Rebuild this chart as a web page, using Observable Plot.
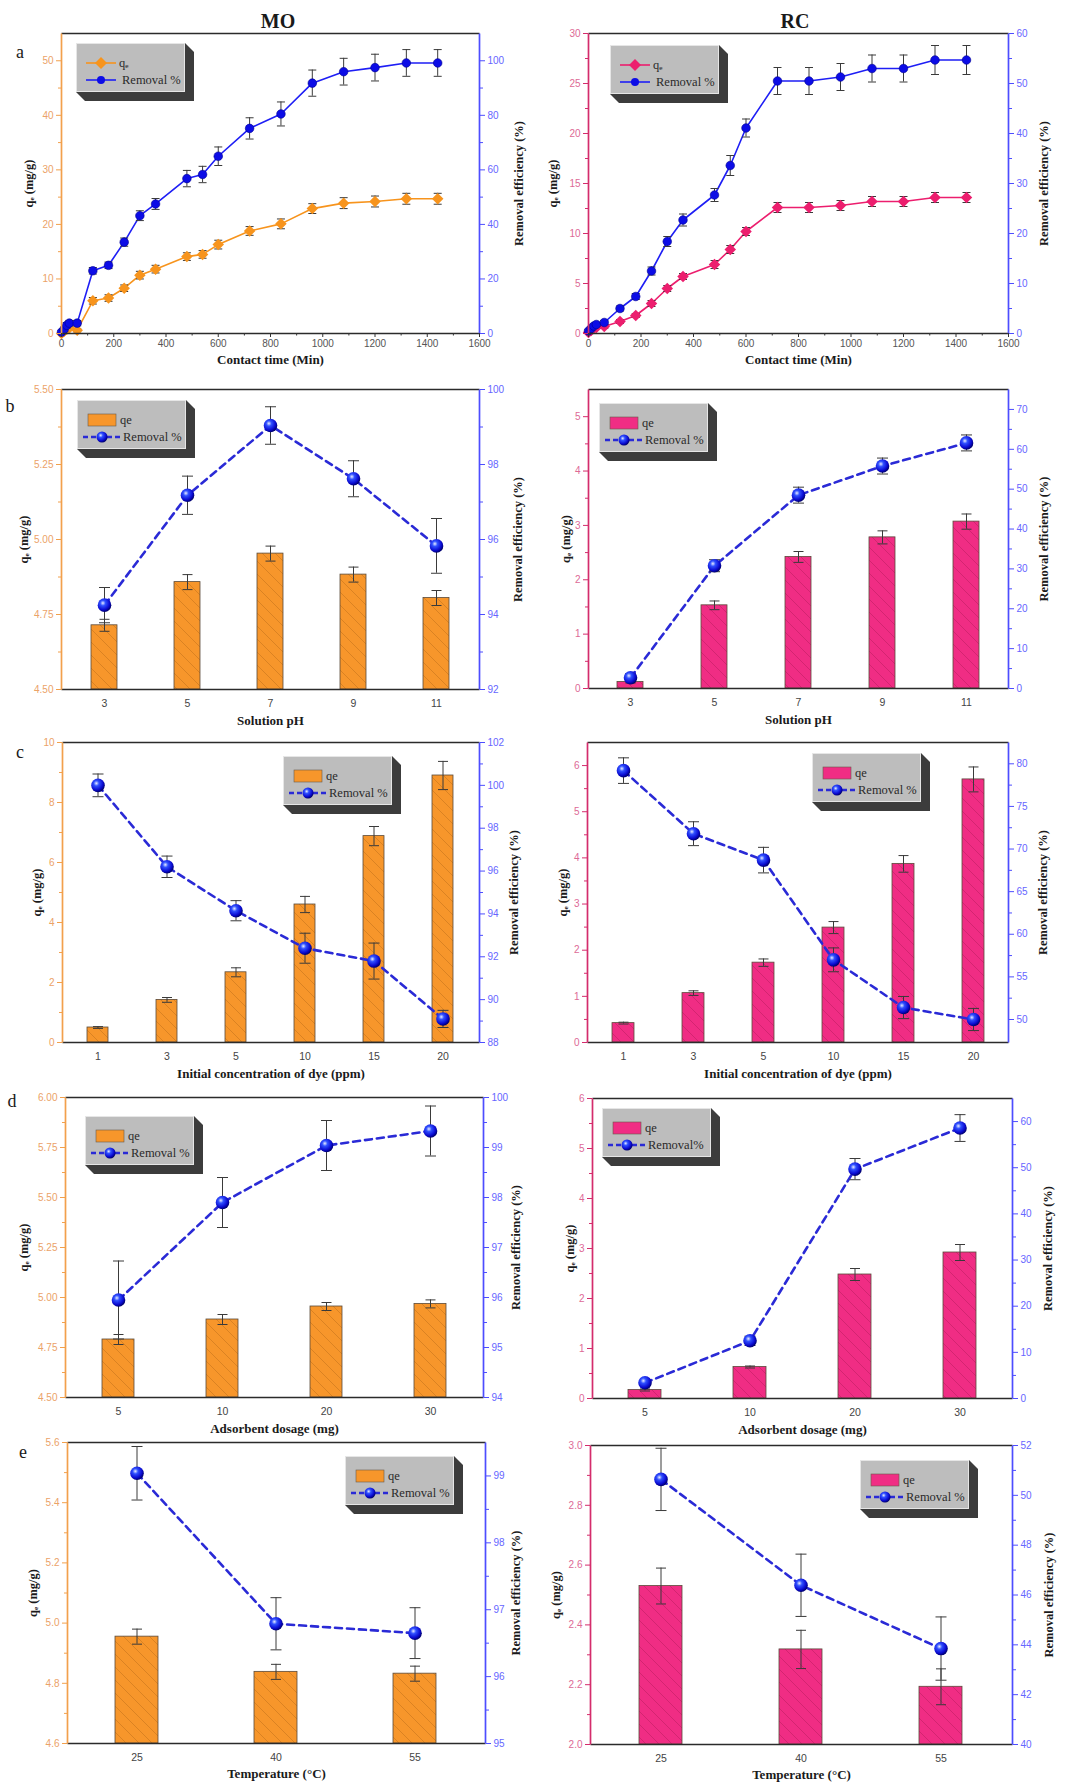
<!DOCTYPE html>
<html>
<head>
<meta charset="utf-8">
<script src="https://cdn.jsdelivr.net/npm/d3@7"></script>
<script src="https://cdn.jsdelivr.net/npm/@observablehq/plot@0.6"></script>
<style>
html,body{margin:0;padding:0;background:#fff;}
#root{position:relative;width:1070px;height:1785px;overflow:hidden;background:#fff;}
.tag{position:absolute;font-family:"Liberation Serif","Times New Roman",serif;color:#1a1a1a;line-height:1;transform:translate(-50%,-50%);white-space:nowrap;}
</style>
</head>
<body>
<div id="root"></div>
<script>
// ---------- categories ----------
const timeMin = [0, 10, 20, 30, 60, 120, 180, 240, 300, 360, 480, 540, 600, 720, 840, 960, 1080, 1200, 1320, 1440];
const phLevels = ["3", "5", "7", "9", "11"];
const concLevels = ["1", "3", "5", "10", "15", "20"];
const dosageLevels = ["5", "10", "20", "30"];
const tempLevels = ["25", "40", "55"];

// ---------- (a) contact time ----------
const moTimeQe = [0, 0.4, 0.8, 1.0, 0.6, 6.0, 6.5, 8.3, 10.7, 11.8, 14.1, 14.5, 16.3, 18.8, 20.1, 22.9, 23.9, 24.2, 24.7, 24.7];
const moTimeQeErr = [0.1, 0.2, 0.3, 0.3, 0.3, 0.6, 0.6, 0.6, 0.7, 0.7, 0.7, 0.7, 0.8, 0.8, 0.9, 0.9, 1.0, 1.0, 1.0, 1.0];
const moTimeRemoval = [0.5, 1.5, 3.0, 3.8, 3.8, 23.0, 25.0, 33.5, 43.2, 47.5, 56.8, 58.3, 65.0, 75.2, 80.5, 91.8, 96.0, 97.5, 99.2, 99.2];
const moTimeRemovalErr = [0.5, 0.8, 1.0, 1.0, 1.0, 1.2, 1.2, 1.5, 1.8, 2.0, 3.0, 3.0, 3.4, 3.9, 4.4, 4.8, 4.9, 4.9, 4.9, 4.9];
const rcTimeQe = [0.1, 0.3, 0.5, 0.6, 0.7, 1.2, 1.8, 3.0, 4.5, 5.7, 6.9, 8.4, 10.2, 12.6, 12.6, 12.8, 13.2, 13.2, 13.6, 13.6];
const rcTimeQeErr = [0.1, 0.1, 0.1, 0.1, 0.2, 0.2, 0.2, 0.3, 0.3, 0.3, 0.4, 0.4, 0.4, 0.5, 0.5, 0.5, 0.5, 0.5, 0.5, 0.5];
const rcTimeRemoval = [0.5, 1.0, 1.5, 1.8, 2.2, 5.0, 7.4, 12.5, 18.4, 22.7, 27.7, 33.6, 41.1, 50.5, 50.5, 51.3, 53.0, 53.0, 54.7, 54.7];
const rcTimeRemovalErr = [0.3, 0.3, 0.4, 0.4, 0.4, 0.5, 0.6, 0.8, 1.0, 1.2, 1.3, 2.0, 1.8, 2.7, 2.7, 2.7, 2.7, 2.7, 2.9, 2.9];

// ---------- (b) pH ----------
const moPhQe = [4.714, 4.858, 4.953, 4.883, 4.805];
const moPhQeErr = [0.02, 0.025, 0.025, 0.025, 0.025];
const moPhRemoval = [94.25, 97.18, 99.04, 97.62, 95.83];
const moPhRemovalErr = [0.47, 0.51, 0.5, 0.48, 0.73];
const rcPhQe = [0.12, 1.53, 2.42, 2.78, 3.07];
const rcPhQeErr = [0.02, 0.08, 0.1, 0.12, 0.14];
const rcPhRemoval = [2.7, 30.8, 48.5, 55.8, 61.6];
const rcPhRemovalErr = [1.0, 1.5, 2.0, 2.0, 2.0];

// ---------- (c) initial concentration ----------
const moConcQe = [0.5, 1.42, 2.34, 4.6, 6.88, 8.9];
const moConcQeErr = [0.03, 0.08, 0.15, 0.27, 0.32, 0.47];
const moConcRemoval = [100.0, 96.2, 94.15, 92.4, 91.8, 89.1];
const moConcRemovalErr = [0.53, 0.5, 0.47, 0.7, 0.84, 0.4];
const rcConcQe = [0.42, 1.07, 1.73, 2.49, 3.87, 5.7];
const rcConcQeErr = [0.02, 0.05, 0.08, 0.13, 0.18, 0.27];
const rcConcRemoval = [79.2, 71.8, 68.7, 57.0, 51.4, 50.0];
const rcConcRemovalErr = [1.5, 1.4, 1.5, 1.4, 1.3, 1.3];

// ---------- (d) adsorbent dosage ----------
const moDoseQe = [4.79, 4.89, 4.955, 4.968];
const moDoseQeErr = [0.025, 0.025, 0.02, 0.02];
const moDoseRemoval = [95.95, 97.9, 99.04, 99.33];
const moDoseRemovalErr = [0.78, 0.5, 0.5, 0.5];
const rcDoseQe = [0.17, 0.63, 2.48, 2.92];
const rcDoseQeErr = [0.02, 0.02, 0.12, 0.16];
const rcDoseRemoval = [3.4, 12.5, 49.7, 58.6];
const rcDoseRemovalErr = [0.5, 1.0, 2.3, 2.9];

// ---------- (e) temperature ----------
const moTempQe = [4.955, 4.838, 4.832];
const moTempQeErr = [0.025, 0.025, 0.025];
const moTempRemoval = [99.04, 96.79, 96.65];
const moTempRemovalErr = [0.4, 0.39, 0.38];
const rcTempQe = [2.53, 2.318, 2.193];
const rcTempQeErr = [0.06, 0.064, 0.06];
const rcTempRemoval = [50.64, 46.39, 43.85];
const rcTempRemovalErr = [1.25, 1.25, 1.27];

// ---------- axis domains & tick labels ----------
const timeDomain = [0, 1600];
const timeTicks = [0, 200, 400, 600, 800, 1000, 1200, 1400, 1600];
const timeMinor = [100, 300, 500, 700, 900, 1100, 1300, 1500];

const moTimeQeDomain = [0, 55], moTimeQeTicks = [0, 10, 20, 30, 40, 50], moTimeQeMinor = [5, 15, 25, 35, 45];
const moTimeRemDomain = [0, 110], moTimeRemTicks = [0, 20, 40, 60, 80, 100], moTimeRemMinor = [10, 30, 50, 70, 90];
const rcTimeQeDomain = [0, 30], rcTimeQeTicks = [0, 5, 10, 15, 20, 25, 30], rcTimeQeMinor = [2.5, 7.5, 12.5, 17.5, 22.5, 27.5];
const rcTimeRemDomain = [0, 60], rcTimeRemTicks = [0, 10, 20, 30, 40, 50, 60], rcTimeRemMinor = [5, 15, 25, 35, 45, 55];

const moPhQeDomain = [4.5, 5.5], moPhQeTicks = [4.5, 4.75, 5.0, 5.25, 5.5], moPhQeMinor = [4.625, 4.875, 5.125, 5.375];
const moPhRemDomain = [92, 100], moPhRemTicks = [92, 94, 96, 98, 100], moPhRemMinor = [93, 95, 97, 99];
const rcPhQeDomain = [0, 5.5], rcPhQeTicks = [0, 1, 2, 3, 4, 5], rcPhQeMinor = [0.5, 1.5, 2.5, 3.5, 4.5];
const rcPhRemDomain = [0, 75], rcPhRemTicks = [0, 10, 20, 30, 40, 50, 60, 70], rcPhRemMinor = [5, 15, 25, 35, 45, 55, 65];

const moConcQeDomain = [0, 10], moConcQeTicks = [0, 2, 4, 6, 8, 10], moConcQeMinor = [1, 3, 5, 7, 9];
const moConcRemDomain = [88, 102], moConcRemTicks = [88, 90, 92, 94, 96, 98, 100, 102], moConcRemMinor = [89, 91, 93, 95, 97, 99, 101];
const rcConcQeDomain = [0, 6.5], rcConcQeTicks = [0, 1, 2, 3, 4, 5, 6], rcConcQeMinor = [0.5, 1.5, 2.5, 3.5, 4.5, 5.5];
const rcConcRemDomain = [47.3, 82.5], rcConcRemTicks = [50, 55, 60, 65, 70, 75, 80], rcConcRemMinor = [52.5, 57.5, 62.5, 67.5, 72.5, 77.5];

const moDoseQeDomain = [4.5, 6.0], moDoseQeTicks = [4.5, 4.75, 5.0, 5.25, 5.5, 5.75, 6.0], moDoseQeMinor = [4.625, 4.875, 5.125, 5.375, 5.625, 5.875];
const moDoseRemDomain = [94, 100], moDoseRemTicks = [94, 95, 96, 97, 98, 99, 100], moDoseRemMinor = [94.5, 95.5, 96.5, 97.5, 98.5, 99.5];
const rcDoseQeDomain = [0, 6], rcDoseQeTicks = [0, 1, 2, 3, 4, 5, 6], rcDoseQeMinor = [0.5, 1.5, 2.5, 3.5, 4.5, 5.5];
const rcDoseRemDomain = [0, 65], rcDoseRemTicks = [0, 10, 20, 30, 40, 50, 60], rcDoseRemMinor = [5, 15, 25, 35, 45, 55];

const moTempQeDomain = [4.6, 5.6], moTempQeTicks = [4.6, 4.8, 5.0, 5.2, 5.4, 5.6], moTempQeMinor = [4.7, 4.9, 5.1, 5.3, 5.5];
const moTempRemDomain = [95, 99.5], moTempRemTicks = [95, 96, 97, 98, 99], moTempRemMinor = [95.5, 96.5, 97.5, 98.5];
const rcTempQeDomain = [2.0, 3.0], rcTempQeTicks = [2.0, 2.2, 2.4, 2.6, 2.8, 3.0], rcTempQeMinor = [2.1, 2.3, 2.5, 2.7, 2.9];
const rcTempRemDomain = [40, 52], rcTempRemTicks = [40, 42, 44, 46, 48, 50, 52], rcTempRemMinor = [41, 43, 45, 47, 49, 51];

// ---------- styles ----------
const SERIF = "'Liberation Serif', 'Times New Roman', serif";
const SANS = "'Liberation Sans', Arial, sans-serif";
const MO = {bar: "#F7962B", line: "#F7941D", axis: "#F2A04C", text: "#EBA268", hatch: "#6a3500"};
const RC = {bar: "#F02D84", line: "#EC1E6E", axis: "#D42C6C", text: "#DD6A96", hatch: "#6a0028"};
const BLUE_AXIS = "#4d4dff", BLUE_TEXT = "#6666ff", BLUE_LINE = "#2a2ad6", ERR = "#3a3a3a";

const panels = [
  {col: 0, frame: [61, 479, 33, 333], kind: "time", dye: MO, x: timeMin, qe: moTimeQe, qeErr: moTimeQeErr, rem: moTimeRemoval, remErr: moTimeRemovalErr,
   yDomain: moTimeQeDomain, yTicks: moTimeQeTicks, yMinor: moTimeQeMinor, yFmt: "d", rDomain: moTimeRemDomain, rTicks: moTimeRemTicks, rMinor: moTimeRemMinor, rFmt: "d",
   xLabel: "Contact time (Min)", ylOff: -33, yrOff: 39, xlOff: 26, legend: [76, 43], legendQe: "qₑ", legendRem: "Removal %"},
  {col: 1, frame: [588, 1008, 33, 333], kind: "time", dye: RC, x: timeMin, qe: rcTimeQe, qeErr: rcTimeQeErr, rem: rcTimeRemoval, remErr: rcTimeRemovalErr,
   yDomain: rcTimeQeDomain, yTicks: rcTimeQeTicks, yMinor: rcTimeQeMinor, yFmt: "d", rDomain: rcTimeRemDomain, rTicks: rcTimeRemTicks, rMinor: rcTimeRemMinor, rFmt: "d",
   xLabel: "Contact time (Min)", ylOff: -36, yrOff: 35, xlOff: 26, legend: [610, 45], legendQe: "qₑ", legendRem: "Removal %"},
  {col: 0, frame: [61, 479, 389, 689], kind: "bar", dye: MO, x: phLevels, qe: moPhQe, qeErr: moPhQeErr, rem: moPhRemoval, remErr: moPhRemovalErr,
   yDomain: moPhQeDomain, yTicks: moPhQeTicks, yMinor: moPhQeMinor, yFmt: ".2f", rDomain: moPhRemDomain, rTicks: moPhRemTicks, rMinor: moPhRemMinor, rFmt: "d",
   xLabel: "Solution pH", ylOff: -38, yrOff: 38, xlOff: 31, legend: [77, 400], legendQe: "qe", legendRem: "Removal %"},
  {col: 1, frame: [588, 1008, 389, 688], kind: "bar", dye: RC, x: phLevels, qe: rcPhQe, qeErr: rcPhQeErr, rem: rcPhRemoval, remErr: rcPhRemovalErr,
   yDomain: rcPhQeDomain, yTicks: rcPhQeTicks, yMinor: rcPhQeMinor, yFmt: "d", rDomain: rcPhRemDomain, rTicks: rcPhRemTicks, rMinor: rcPhRemMinor, rFmt: "d",
   xLabel: "Solution pH", ylOff: -23, yrOff: 35, xlOff: 31, legend: [599, 403], legendQe: "qe", legendRem: "Removal %"},
  {col: 0, frame: [62, 479, 742, 1042], kind: "bar", dye: MO, x: concLevels, qe: moConcQe, qeErr: moConcQeErr, rem: moConcRemoval, remErr: moConcRemovalErr,
   yDomain: moConcQeDomain, yTicks: moConcQeTicks, yMinor: moConcQeMinor, yFmt: "d", rDomain: moConcRemDomain, rTicks: moConcRemTicks, rMinor: moConcRemMinor, rFmt: "d",
   xLabel: "Initial concentration of dye (ppm)", ylOff: -26, yrOff: 34, xlOff: 31, legend: [283, 756], legendQe: "qe", legendRem: "Removal %"},
  {col: 1, frame: [587, 1008, 742, 1042], kind: "bar", dye: RC, x: concLevels, qe: rcConcQe, qeErr: rcConcQeErr, rem: rcConcRemoval, remErr: rcConcRemovalErr,
   yDomain: rcConcQeDomain, yTicks: rcConcQeTicks, yMinor: rcConcQeMinor, yFmt: "d", rDomain: rcConcRemDomain, rTicks: rcConcRemTicks, rMinor: rcConcRemMinor, rFmt: "d",
   xLabel: "Initial concentration of dye (ppm)", ylOff: -25, yrOff: 34, xlOff: 31, legend: [812, 753], legendQe: "qe", legendRem: "Removal %"},
  {col: 0, frame: [65, 483, 1097, 1397], kind: "bar", dye: MO, x: dosageLevels, qe: moDoseQe, qeErr: moDoseQeErr, rem: moDoseRemoval, remErr: moDoseRemovalErr,
   yDomain: moDoseQeDomain, yTicks: moDoseQeTicks, yMinor: moDoseQeMinor, yFmt: ".2f", rDomain: moDoseRemDomain, rTicks: moDoseRemTicks, rMinor: moDoseRemMinor, rFmt: "d",
   xLabel: "Adsorbent dosage (mg)", ylOff: -42, yrOff: 32, xlOff: 31, legend: [85, 1116], legendQe: "qe", legendRem: "Removal %"},
  {col: 1, frame: [592, 1012, 1098, 1398], kind: "bar", dye: RC, x: dosageLevels, qe: rcDoseQe, qeErr: rcDoseQeErr, rem: rcDoseRemoval, remErr: rcDoseRemovalErr,
   yDomain: rcDoseQeDomain, yTicks: rcDoseQeTicks, yMinor: rcDoseQeMinor, yFmt: "d", rDomain: rcDoseRemDomain, rTicks: rcDoseRemTicks, rMinor: rcDoseRemMinor, rFmt: "d",
   xLabel: "Adsorbent dosage (mg)", ylOff: -23, yrOff: 35, xlOff: 31, legend: [602, 1108], legendQe: "qe", legendRem: "Removal%"},
  {col: 0, frame: [67, 485, 1442, 1743], kind: "bar", dye: MO, x: tempLevels, qe: moTempQe, qeErr: moTempQeErr, rem: moTempRemoval, remErr: moTempRemovalErr,
   yDomain: moTempQeDomain, yTicks: moTempQeTicks, yMinor: moTempQeMinor, yFmt: ".1f", rDomain: moTempRemDomain, rTicks: moTempRemTicks, rMinor: moTempRemMinor, rFmt: "d",
   xLabel: "Temperature (°C)", ylOff: -35, yrOff: 30, xlOff: 30, legend: [345, 1456], legendQe: "qe", legendRem: "Removal %"},
  {col: 1, frame: [590, 1012, 1445, 1744], kind: "bar", dye: RC, x: tempLevels, qe: rcTempQe, qeErr: rcTempQeErr, rem: rcTempRemoval, remErr: rcTempRemovalErr,
   yDomain: rcTempQeDomain, yTicks: rcTempQeTicks, yMinor: rcTempQeMinor, yFmt: ".1f", rDomain: rcTempRemDomain, rTicks: rcTempRemTicks, rMinor: rcTempRemMinor, rFmt: "d",
   xLabel: "Temperature (°C)", ylOff: -35, yrOff: 36, xlOff: 30, legend: [860, 1460], legendQe: "qe", legendRem: "Removal %"}
];

const root = document.getElementById("root");

// error-bar cap and square diamond symbols
const capSymbol = {draw(ctx, size) { const w = Math.sqrt(size / Math.PI); ctx.moveTo(-w, 0); ctx.lineTo(w, 0); }};
const diamondSymbol = {draw(ctx, size) { const w = Math.sqrt(size / Math.PI) * 1.15; ctx.moveTo(0, -w); ctx.lineTo(w, 0); ctx.lineTo(0, w); ctx.lineTo(-w, 0); ctx.closePath(); }};

function errorBars(rows, lo, hi, half) {
  return [
    Plot.ruleX(rows, {x: "x", y1: lo, y2: hi, stroke: ERR, strokeWidth: 1}),
    Plot.dot(rows, {x: "x", y: lo, r: half, symbol: capSymbol, stroke: ERR, fill: "none", strokeWidth: 1}),
    Plot.dot(rows, {x: "x", y: hi, r: half, symbol: capSymbol, stroke: ERR, fill: "none", strokeWidth: 1})
  ];
}

function addSphere(defs, id) {
  const g = defs.append("radialGradient").attr("id", id).attr("cx", "38%").attr("cy", "35%").attr("r", "65%");
  g.append("stop").attr("offset", "0%").attr("stop-color", "#e6ecff");
  g.append("stop").attr("offset", "30%").attr("stop-color", "#3050ff");
  g.append("stop").attr("offset", "75%").attr("stop-color", "#0a0ad0");
  g.append("stop").attr("offset", "100%").attr("stop-color", "#000070");
}

function drawPanel(p, id) {
  const W = 535, mt = 20, mb = 52;
  const ox = p.col * 535;
  const [fl, fr, ft, fb] = p.frame;
  const ml = fl - ox, mr = ox + W - fr;
  const fw = fr - fl, fh = fb - ft;
  const H = fh + mt + mb;
  const toLeft = d3.scaleLinear(p.rDomain, p.yDomain);
  const toRight = d3.scaleLinear(p.yDomain, p.rDomain);
  const rows = p.x.map((x, i) => ({
    x,
    qe: p.qe[i], qeLo: p.qe[i] - p.qeErr[i], qeHi: p.qe[i] + p.qeErr[i],
    rem: toLeft(p.rem[i]), remLo: toLeft(p.rem[i] - p.remErr[i]), remHi: toLeft(p.rem[i] + p.remErr[i])
  }));
  const isTime = p.kind === "time";
  const base = p.yDomain[0];
  const marks = [];
  if (isTime) {
    marks.push(Plot.line(rows, {x: "x", y: "qe", stroke: p.dye.line, strokeWidth: 1.6}));
    marks.push(...errorBars(rows, "qeLo", "qeHi", 4));
    marks.push(Plot.dot(rows, {x: "x", y: "qe", symbol: diamondSymbol, r: 5, fill: p.dye.line, stroke: "none"}));
    marks.push(Plot.line(rows, {x: "x", y: "rem", stroke: "#1e1ef5", strokeWidth: 1.6}));
    marks.push(...errorBars(rows, "remLo", "remHi", 4));
    marks.push(Plot.dot(rows, {x: "x", y: "rem", r: 4.3, fill: "#0c0ce6", stroke: "#000090", strokeWidth: 0.6}));
  } else {
    marks.push(Plot.barY(rows, {x: "x", y1: () => base, y2: "qe", fill: p.dye.bar}));
    marks.push(Plot.barY(rows, {x: "x", y1: () => base, y2: "qe", fill: `url(#hatch${id})`, stroke: "#5a4a3a", strokeWidth: 0.8}));
    marks.push(...errorBars(rows, "qeLo", "qeHi", 5));
    marks.push(Plot.line(rows, {x: "x", y: "rem", stroke: BLUE_LINE, strokeWidth: 2.6, strokeDasharray: "7,5"}));
    marks.push(...errorBars(rows, "remLo", "remHi", 5.5));
    marks.push(Plot.dot(rows, {x: "x", y: "rem", r: 6.8, fill: `url(#sphere${id})`, stroke: "none"}));
  }
  // frame sides: top/bottom dark, left dye colour, right blue
  marks.push(Plot.frame({stroke: "#2b2b2b", strokeWidth: 1.7, strokeDasharray: `${fw} ${fh} ${fw} ${fh}`}));
  marks.push(Plot.frame({stroke: p.dye.axis, strokeWidth: 1.7, strokeDasharray: `0 ${2 * fw + fh} ${fh} 0`}));
  marks.push(Plot.frame({stroke: BLUE_AXIS, strokeWidth: 1.7, strokeDasharray: `0 ${fw} ${fh} ${fw + fh}`}));
  // axes
  marks.push(Plot.axisY({anchor: "left", ticks: p.yTicks, tickFormat: d3.format(p.yFmt), tickSize: 5, tickPadding: 3,
    stroke: p.dye.axis, fill: p.dye.text, fontSize: 10, label: null}));
  marks.push(Plot.axisY({anchor: "left", ticks: p.yMinor, tickFormat: () => "", tickSize: 3, stroke: p.dye.axis, label: null}));
  marks.push(Plot.axisY({anchor: "right", ticks: p.rTicks.map(toLeft), tickFormat: d => d3.format(p.rFmt)(toRight(d)), tickSize: 5, tickPadding: 3,
    stroke: BLUE_AXIS, fill: BLUE_TEXT, fontSize: 10, label: null}));
  marks.push(Plot.axisY({anchor: "right", ticks: p.rMinor.map(toLeft), tickFormat: () => "", tickSize: 3, stroke: BLUE_AXIS, label: null}));
  if (isTime) {
    marks.push(Plot.axisX({ticks: timeTicks, tickFormat: d3.format("d"), tickSize: 4, tickPadding: 2, stroke: "#333", fill: "#555", fontSize: 10, label: null}));
    marks.push(Plot.axisX({ticks: timeMinor, tickSize: 2.5, tickFormat: () => "", stroke: "#333", label: null}));
  } else {
    marks.push(Plot.axisX({tickSize: 0, tickPadding: 10, fill: "#444", fontSize: 10.5, label: null}));
  }
  // axis titles
  const titleStyle = {text: d => d, fontFamily: SERIF, fontWeight: "bold", fontSize: 12.5, fill: "#1a1a1a", textAnchor: "middle", lineAnchor: "middle"};
  marks.push(Plot.text([p.xLabel], {...titleStyle, frameAnchor: "bottom", dy: p.xlOff, fontSize: 13}));
  marks.push(Plot.text(["qₑ (mg/g)"], {...titleStyle, frameAnchor: "left", dx: p.ylOff, rotate: -90}));
  marks.push(Plot.text(["Removal efficiency (%)"], {...titleStyle, frameAnchor: "right", dx: p.yrOff, rotate: -90}));

  const xScale = isTime
    ? {type: "linear", domain: timeDomain, label: null}
    : {type: "band", domain: p.x, paddingInner: 0.69, paddingOuter: 0.345, label: null};

  const svg = Plot.plot({
    width: W, height: H,
    marginLeft: ml, marginRight: mr, marginTop: mt, marginBottom: mb,
    x: xScale,
    y: {type: "linear", domain: p.yDomain, label: null},
    style: {background: "transparent", overflow: "visible", fontFamily: SANS, fontSize: "10px"},
    marks
  });
  const defs = d3.select(svg).insert("defs", ":first-child");
  addSphere(defs, `sphere${id}`);
  const pat = defs.append("pattern").attr("id", `hatch${id}`).attr("patternUnits", "userSpaceOnUse").attr("width", 13).attr("height", 13);
  pat.append("path").attr("d", "M-3,-3 L16,16 M-9.5,3.5 L3.5,16.5 M3.5,-9.5 L16.5,3.5")
    .attr("stroke", p.dye.hatch).attr("stroke-width", 0.7).attr("stroke-opacity", 0.3).attr("fill", "none");
  svg.style.position = "absolute";
  svg.style.left = ox + "px";
  svg.style.top = (ft - mt) + "px";
  root.appendChild(svg);
}

function drawLegend(p, id) {
  const [lx, ly] = p.legend;
  const w = 118, h = 58, d = 9;
  const s = d3.select(root).append("svg").attr("width", w).attr("height", h)
    .style("position", "absolute").style("left", lx + "px").style("top", ly + "px");
  const defs = s.append("defs");
  addSphere(defs, `lsphere${id}`);
  s.append("polygon").attr("points", `0,0 ${w - d},0 ${w},${d} ${w},${h} ${d},${h} 0,${h - d}`).attr("fill", "#3c3c3c");
  s.append("rect").attr("x", 0.5).attr("y", 0.5).attr("width", w - d - 1).attr("height", h - d - 1)
    .attr("fill", "#bdbdbd").attr("stroke", "#e6e6e6").attr("stroke-width", 1);
  const y1 = 20, y2 = 37;
  if (p.kind === "time") {
    s.append("line").attr("x1", 10).attr("x2", 40).attr("y1", y1).attr("y2", y1).attr("stroke", p.dye.line).attr("stroke-width", 1.6);
    s.append("path").attr("d", `M25,${y1 - 6} L31,${y1} L25,${y1 + 6} L19,${y1} Z`).attr("fill", p.dye.line);
    s.append("line").attr("x1", 10).attr("x2", 40).attr("y1", y2).attr("y2", y2).attr("stroke", "#1e1ef5").attr("stroke-width", 1.6);
    s.append("circle").attr("cx", 25).attr("cy", y2).attr("r", 4).attr("fill", "#0c0ce6");
  } else {
    s.append("rect").attr("x", 11).attr("y", y1 - 6).attr("width", 28).attr("height", 12).attr("fill", p.dye.bar).attr("stroke", "#6a5a4a").attr("stroke-width", 0.6);
    s.append("line").attr("x1", 6).attr("x2", 44).attr("y1", y2).attr("y2", y2).attr("stroke", BLUE_LINE).attr("stroke-width", 2.4).attr("stroke-dasharray", "5,3");
    s.append("circle").attr("cx", 25).attr("cy", y2).attr("r", 5.5).attr("fill", `url(#lsphere${id})`);
  }
  s.append("text").attr("x", 43).attr("y", y1).attr("dy", "0.35em").attr("font-family", SERIF).attr("font-size", 12.5).attr("fill", "#2a2a2a").text(p.legendQe);
  s.append("text").attr("x", 46).attr("y", y2).attr("dy", "0.35em").attr("font-family", SERIF).attr("font-size", 12.5).attr("fill", "#2a2a2a").text(p.legendRem);
}

panels.forEach((p, i) => { drawPanel(p, i); });
panels.forEach((p, i) => { drawLegend(p, i); });

// headings and panel letters
const tags = [
  {t: "MO", x: 278, y: 21, size: 20, bold: true},
  {t: "RC", x: 795, y: 21, size: 20, bold: true},
  {t: "a", x: 20, y: 52, size: 18},
  {t: "b", x: 10, y: 406, size: 18},
  {t: "c", x: 20, y: 752, size: 18},
  {t: "d", x: 12, y: 1101, size: 18},
  {t: "e", x: 23, y: 1452, size: 18}
];
tags.forEach(g => {
  const el = document.createElement("div");
  el.className = "tag";
  el.textContent = g.t;
  el.style.left = g.x + "px";
  el.style.top = g.y + "px";
  el.style.fontSize = g.size + "px";
  if (g.bold) el.style.fontWeight = "bold";
  root.appendChild(el);
});
</script>
</body>
</html>
